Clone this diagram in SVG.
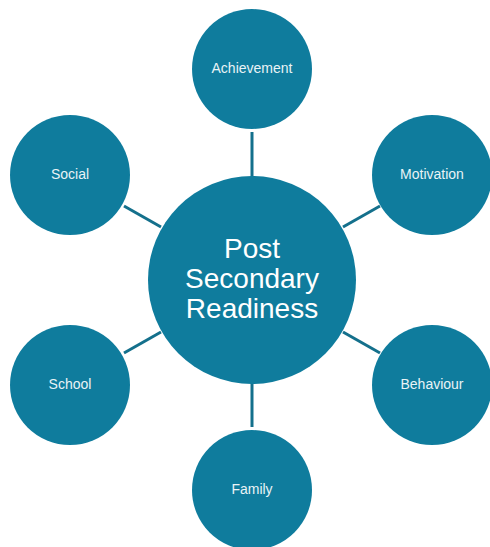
<svg xmlns="http://www.w3.org/2000/svg" width="490" height="547" viewBox="0 0 490 547">
<style>
.n{fill:#0f7c9d}
.t{font-family:"Liberation Sans",Arial,sans-serif;font-size:14px;fill:#e9f3f6;text-anchor:middle}
.c{font-family:"Liberation Sans",Arial,sans-serif;font-size:28px;fill:#ffffff;text-anchor:middle}
.l{stroke:#14708c;stroke-width:3;fill:none}
</style>
<rect width="490" height="547" fill="#ffffff"/>
<g id="connectors">
<line class="l" x1="252" y1="132" x2="252" y2="177"/>
<line class="l" x1="252" y1="383" x2="252" y2="427"/>
<line class="l" x1="124" y1="206" x2="161" y2="227"/>
<line class="l" x1="380" y1="206" x2="343" y2="227"/>
<line class="l" x1="124" y1="353" x2="161" y2="332"/>
<line class="l" x1="380" y1="353" x2="343" y2="332"/>
</g>
<g id="center"><circle class="n" cx="252" cy="280" r="104"/>
<text class="c" x="252" y="258">Post</text>
<text class="c" x="252" y="288">Secondary</text>
<text class="c" x="252" y="318">Readiness</text></g>
<g id="achievement"><circle class="n" cx="252" cy="69" r="60"/><text class="t" x="252" y="73">Achievement</text></g>
<g id="social"><circle class="n" cx="70" cy="175" r="60"/><text class="t" x="70" y="179">Social</text></g>
<g id="motivation"><circle class="n" cx="432" cy="175" r="60"/><text class="t" x="432" y="179">Motivation</text></g>
<g id="school"><circle class="n" cx="70" cy="385" r="60"/><text class="t" x="70" y="389">School</text></g>
<g id="behaviour"><circle class="n" cx="432" cy="385" r="60"/><text class="t" x="432" y="389">Behaviour</text></g>
<g id="family"><circle class="n" cx="252" cy="490" r="60"/><text class="t" x="252" y="494">Family</text></g>
</svg>
